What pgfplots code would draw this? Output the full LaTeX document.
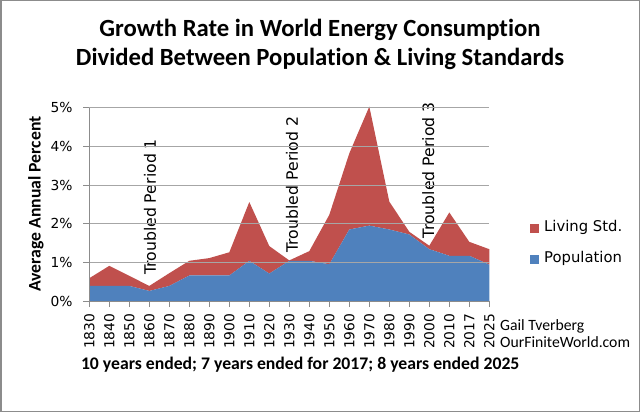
\documentclass[border=0pt]{standalone}
\usepackage{fontspec}
\setmainfont{Carlito}[Ligatures=CommonOff]
\newfontfamily\dv{DejaVu Sans}
\usepackage{pgfplots}
\usepackage{pgfplotstable}
\pgfplotsset{compat=1.18}
\definecolor{popblue}{HTML}{4F81BD}
\definecolor{livred}{HTML}{C0504D}
\definecolor{gridgray}{HTML}{A6A6A6}
\definecolor{axgray}{HTML}{8C8C8C}
\definecolor{framegray}{HTML}{8C8C8C}
\newcommand\tickfont{\dv\fontsize{13.8bp}{16bp}\selectfont}
\newcommand\legfont{\dv\fontsize{14.8bp}{17bp}\selectfont}
\newcommand\tpfont{\dv\fontsize{15.7bp}{19bp}\selectfont}
\newcommand\titlefont{\bfseries\fontsize{24.7bp}{29bp}\selectfont}

\pgfplotstableread{
x  pop   liv
0  0.39  0.20
1  0.39  0.52
2  0.39  0.26
3  0.26  0.13
4  0.39  0.33
5  0.66  0.38
6  0.66  0.45
7  0.66  0.60
8  1.04  1.52
9  0.71  0.71
10 1.04  0.01
11 1.04  0.25
12 0.95  1.28
13 1.85  1.97
14 1.95  3.08
15 1.85  0.72
16 1.72  0.07
17 1.34  0.09
18 1.17  1.12
19 1.17  0.36
20 0.94  0.40
}\datatable

\begin{document}
\begin{tikzpicture}[x=1bp,y=1bp]
\path[use as bounding box] (0,0) rectangle (640,412);
\draw[framegray, line width=1.5bp] (0.75,0.75) rectangle (639.25,411.25);
\begin{axis}[
  at={(89.3bp,111bp)}, anchor=south west,
  scale only axis, width=400bp, height=193.3bp,
  xmin=0, xmax=20, ymin=0, ymax=5,
  stack plots=y, area style,
  clip=false,
  axis x line*=bottom, axis y line*=left,
  axis line style={draw=axgray, line width=0.8bp, -},
  tick align=outside, major tick length=6bp,
  tick style={draw=axgray, line width=0.8bp},
  xtick={0,...,20},
  xticklabels={1830,1840,1850,1860,1870,1880,1890,1900,1910,1920,1930,1940,1950,1960,1970,1980,1990,2000,2010,2017,2025},
  ytick={0,1,2,3,4,5},
  yticklabels={0\%,1\%,2\%,3\%,4\%,5\%},
  ymajorgrids, major grid style={draw=gridgray, line width=0.8bp},
  xticklabel style={rotate=90, anchor=east, font=\tickfont, inner sep=0pt},
  yticklabel style={anchor=east, font=\tickfont, inner sep=0pt},
  xticklabel shift=6.5bp,
  yticklabel shift=10.5bp,
  reverse legend,
  legend cell align=left,
  legend style={at={(1.1018,0.297)}, anchor=west, draw=none, fill=none,
    inner sep=0pt, font=\legfont, row sep=21.9bp,
    nodes={inner sep=0pt, text height=0.73em, text depth=0pt},
    /tikz/every odd column/.append style={column sep=5bp}},
  legend image code/.code={\fill[#1] (0bp,-4.5bp) rectangle (9bp,4.5bp);},
]
\addplot[fill=popblue, draw=none] table[x=x,y=pop]{\datatable} \closedcycle;
\addlegendentry{Population}
\addplot[fill=livred, draw=none] table[x=x,y=liv]{\datatable} \closedcycle;
\addlegendentry{Living Std.}
\node[rotate=90, anchor=base west, font=\tpfont, inner sep=0pt] at (axis cs:3.33,0.67) {Troubled Period 1};
\node[rotate=90, anchor=base west, font=\tpfont, inner sep=0pt] at (axis cs:10.43,1.25) {Troubled Period 2};
\node[rotate=90, anchor=base west, font=\tpfont, inner sep=0pt] at (axis cs:17.24,1.62) {Troubled Period 3};
\end{axis}
\node[anchor=base, font=\titlefont] at (320,375.3) {Growth Rate in World Energy Consumption};
\node[anchor=base, font=\titlefont] at (320,346.3) {Divided Between Population \& Living Standards};
\node[rotate=90, anchor=center, font=\bfseries\fontsize{17.7bp}{20bp}\selectfont] at (36,208) {Average Annual Percent};
\node[anchor=base west, inner sep=0pt, font=\fontsize{15.7bp}{18bp}\selectfont] at (500,82) {Gail Tverberg};
\node[anchor=base west, inner sep=0pt, font=\fontsize{15.7bp}{18bp}\selectfont] at (500,64.7) {OurFiniteWorld.com};
\node[anchor=base west, inner sep=0pt, font=\bfseries\fontsize{17.7bp}{20bp}\selectfont] at (80.8,43) {10 years ended; 7 years ended for 2017; 8 years ended 2025};
\end{tikzpicture}
\end{document}
